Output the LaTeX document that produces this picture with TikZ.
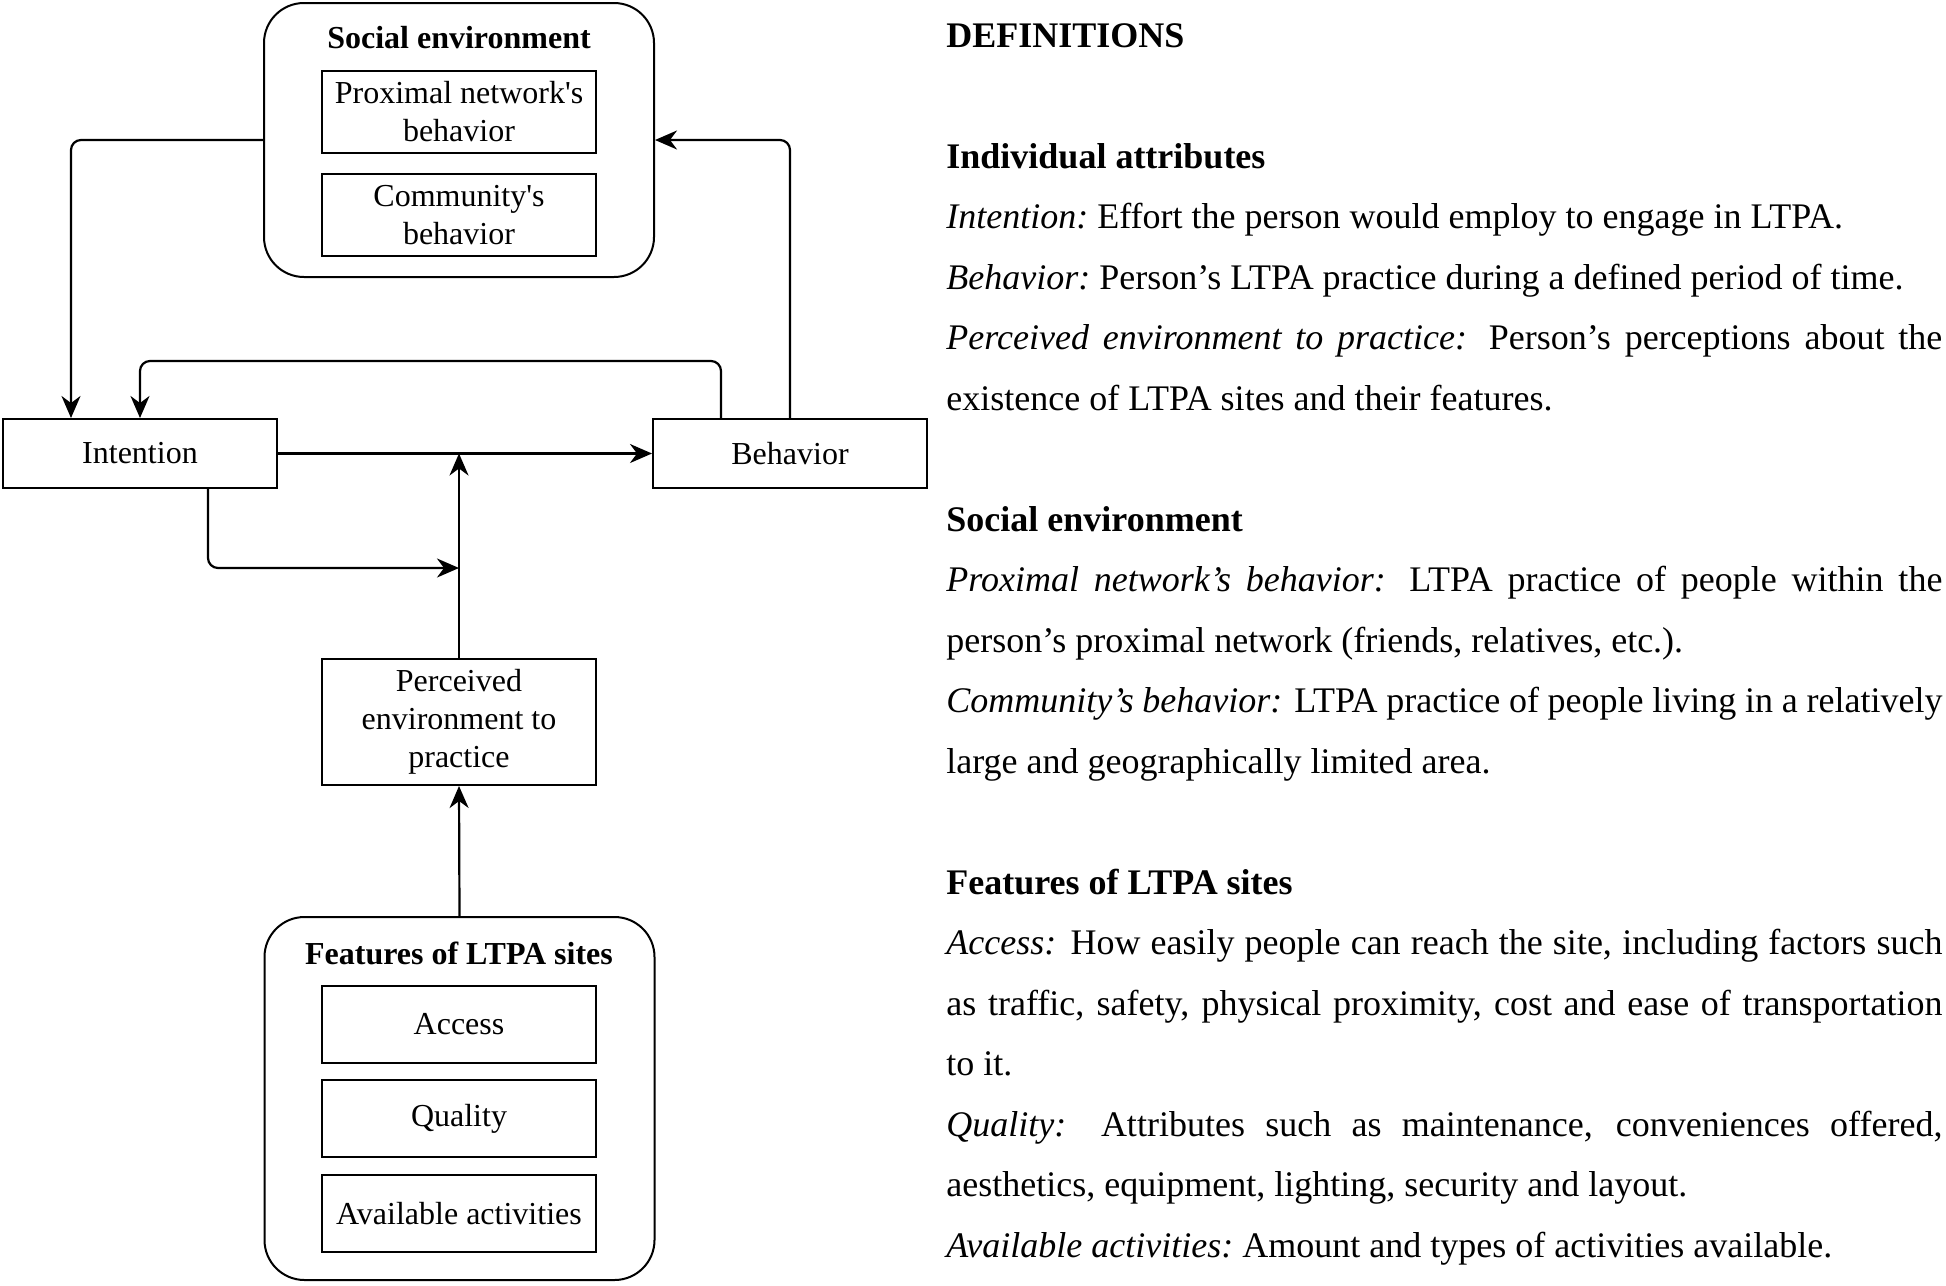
\documentclass[tikz,border=0pt]{standalone}
\usepackage{fontspec}
\setmainfont{Liberation Serif}
\usetikzlibrary{arrows.meta,positioning}
\tikzset{
  arr/.style={line width=1.1pt, rounded corners=5pt, -{Stealth[length=11pt,width=9.5pt,inset=3.5pt]}},
  outerbox/.style={draw, line width=1pt, rounded corners=20pt, minimum width=195pt, minimum height=137pt, inner sep=0pt},
  inbox/.style={draw, line width=1pt, minimum width=137pt, align=center, inner sep=0pt, font=\fontsize{16}{19}\selectfont},
  ttl/.style={inner sep=0pt, font=\fontsize{16}{19}\selectfont\bfseries},
  deftxt/.style={anchor=base west, inner sep=0pt, font=\fontsize{18}{20}\selectfont}
}
\begin{document}
\begin{tikzpicture}[x=0.5pt,y=-0.5pt]
\useasboundingbox (0,0) rectangle (1946,1285);
% Social environment
\node[outerbox] (soc) at (459,140) {};
\node[ttl] (soct) at (459,38) {Social environment};
\node[inbox, minimum height=41pt] (prox) at (459,112) {Proximal network\textquotesingle s\\behavior};
\node[inbox, minimum height=41pt] (comm) at (459,215) {Community\textquotesingle s\\behavior};
% Individual
\node[inbox, minimum height=34.5pt] (intent) at (140,453.5) {Intention};
\node[inbox, minimum height=34.5pt] (beh) at (790,453.5) {Behavior};
\node[inbox, minimum height=63pt] (perc) at (459,722) {Perceived\\environment to\\practice};
% Features
\node[outerbox, minimum height=181.5pt] (feat) at (459.5,1098.5) {};
\node[ttl] (featt) at (459,953) {Features of LTPA sites};
\node[inbox, minimum height=38.5pt] (acc) at (459,1024.5) {Access};
\node[inbox, minimum height=38.5pt] (qual) at (459,1118.5) {Quality};
\node[inbox, minimum height=38.5pt] (avail) at (459,1213.5) {Available activities};
% connectors
\coordinate (mid) at (459,568);
\draw[arr] (soc.west) -| ([xshift=-34.5pt]intent.north);
\draw[arr] (beh.north) |- (soc.east);
\draw[arr] ([xshift=-34.5pt]beh.north) -- ++(0,-57) -| (intent.north);
\draw[arr] (intent.east) -- (beh.west);
\draw[arr] (perc.north) -- (perc.north |- intent.east);
\draw[arr] ([xshift=34pt]intent.south) |- (mid);
\draw[arr] (feat.north) -- (perc.south);
% Definitions
\node[deftxt] (d0) at (946,47) {\textbf{DEFINITIONS}};
\node[deftxt] (d2) at (946,168) {\textbf{Individual attributes}};
\node[deftxt] (d3) at (946,228.5) {\textit{Intention:}\ Effort the person would employ to engage in LTPA.};
\node[deftxt] (d4) at (946,289) {\textit{Behavior:}\ Person’s LTPA practice during a defined period of time.};
\node[deftxt] (d5) at (946,349.5) {\makebox[498pt][s]{\textit{Perceived environment to practice:} Person’s perceptions about the}};
\node[deftxt] (d6) at (946,410) {existence of LTPA sites and their features.};
\node[deftxt] (d8) at (946,531) {\textbf{Social environment}};
\node[deftxt] (d9) at (946,591.5) {\makebox[498pt][s]{\textit{Proximal network’s behavior:} LTPA practice of people within the}};
\node[deftxt] (d10) at (946,652) {person’s proximal network (friends, relatives, etc.).};
\node[deftxt] (d11) at (946,712.5) {\makebox[498pt][s]{\textit{Community’s behavior:} LTPA practice of people living in a relatively}};
\node[deftxt] (d12) at (946,773) {large and geographically limited area.};
\node[deftxt] (d14) at (946,894) {\textbf{Features of LTPA sites}};
\node[deftxt] (d15) at (946,954.5) {\makebox[498pt][s]{\textit{Access:} How easily people can reach the site, including factors such}};
\node[deftxt] (d16) at (946,1015) {\makebox[498pt][s]{as traffic, safety, physical proximity, cost and ease of transportation}};
\node[deftxt] (d17) at (946,1075.5) {to it.};
\node[deftxt] (d18) at (946,1136) {\makebox[498pt][s]{\textit{Quality:} Attributes such as maintenance, conveniences offered,}};
\node[deftxt] (d19) at (946,1196.5) {aesthetics, equipment, lighting, security and layout.};
\node[deftxt] (d20) at (946,1257) {\textit{Available activities:}\ Amount and types of activities available.};
\end{tikzpicture}
\end{document}
